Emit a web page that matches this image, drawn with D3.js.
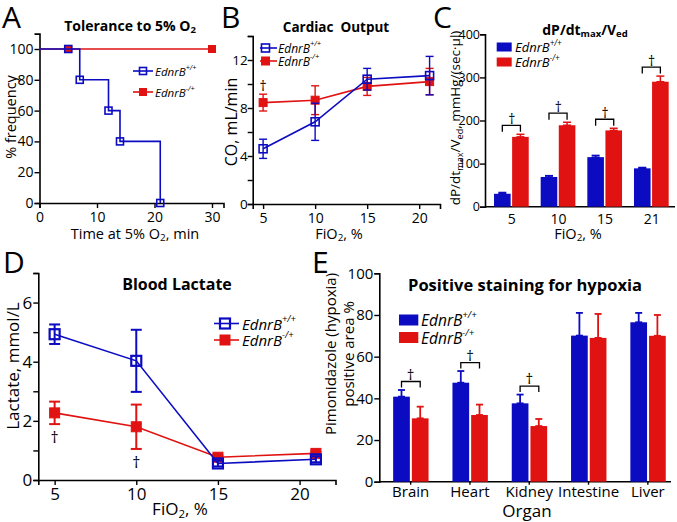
<!DOCTYPE html>
<html><head><meta charset="utf-8">
<script src="https://cdn.jsdelivr.net/npm/d3@7"></script>
<style>
body{margin:0;background:#fff}
svg{display:block}
text{font-family:"Open Sans",sans-serif;fill:#000}
</style></head><body>
<svg id="c" width="677" height="522"></svg>
<script>
// ---------- DATA ----------
// Panel A: tolerance to 5% O2 (survival)
const aStepTime = [0, 7, 12, 14, 21];
const aStepPct  = [100, 80, 60, 40, 0];
const aMarkTimeBlue = [5, 7, 12, 14, 21];
const aMarkPctBlue  = [100, 80, 60, 40, 0];
const aLineTimeRed = [0, 30];
const aLinePctRed  = [100, 100];
const aMarkTimeRed = [5, 30];
const aMarkPctRed  = [100, 100];
const aTicksX = [0, 10, 20, 30];
const aTicksY = [0, 20, 40, 60, 80, 100];

// Panel B: cardiac output
const fio2 = [5, 10, 15, 21];
const coBlue = [4.6, 6.85, 10.4, 10.7];
const coBlueErr = [0.8, 1.55, 0.9, 1.6];
const coRed = [8.45, 8.65, 9.8, 10.2];
const coRedErr = [0.7, 1.2, 0.75, 1.1];
const bTicksX = [5, 10, 15, 20];
const bTicksY = [0, 2, 4, 6, 8, 10, 12, 14];

// Panel C: dP/dtmax/Ved
const cCats = ["5", "10", "15", "21"];
const cBlue = [30, 69, 115, 89];
const cBlueErr = [3, 3, 4, 2];
const cRed = [162, 189, 177, 290];
const cRedErr = [6, 7, 5, 13];
const cTicksY = [0, 100, 200, 300, 400];

// Panel D: blood lactate
const lacBlue = [4.93, 4.03, 0.56, 0.70];
const lacBlueErr = [0.33, 1.05, 0.1, 0.1];
const lacRed = [2.27, 1.80, 0.77, 0.90];
const lacRedErr = [0.38, 0.75, 0.06, 0.06];
const dTicksX = [5, 10, 15, 20];
const dTicksY = [0, 1, 2, 3, 4, 5, 6, 7];

// Panel E: positive staining for hypoxia
const organs = ["Brain", "Heart", "Kidney", "Intestine", "Liver"];
const eBlue = [40.8, 47.5, 37.6, 70.1, 76.5];
const eBlueErr = [3.2, 5.6, 4.2, 10.9, 4.5];
const eRed = [30.4, 32, 26.7, 69, 70];
const eRedErr = [5.6, 5, 3.4, 11.5, 10];
const eTicksY = [0, 20, 40, 60, 80, 100];

const legendNames = [["EdnrB", "+/+"], ["EdnrB", "-/+"]];

// ---------- STYLE ----------
const BLUE = "#0b0bc2", RED = "#e01212";
const SANS = "'Open Sans', sans-serif";
const BOLD = "'Liberation Sans', Arial, sans-serif";
const svg = d3.select("#c");

function rich(g, x, y, fs, parts, o = {}) {
  const t = g.append("text").attr("font-size", fs)
    .attr("font-family", o.bold ? BOLD : SANS)
    .attr("font-weight", o.bold ? "bold" : "normal")
    .attr("text-anchor", o.anchor || "start")
    .attr("xml:space", "preserve").style("white-space", "pre");
  if (o.rotate) t.attr("transform", `translate(${x},${y}) rotate(-90)`);
  else t.attr("x", x).attr("y", y);
  if (o.central) t.attr("dominant-baseline", "central");
  let cur = 0;
  parts.forEach(p => {
    const [txt, kind, ital] = Array.isArray(p) ? p : [p];
    let shift = 0, size = fs;
    if (kind === "sub") { shift = 0.3 * fs; size = 0.68 * fs; }
    if (kind === "sup") { shift = -0.38 * fs; size = 0.62 * fs; }
    t.append("tspan").attr("dy", shift - cur).attr("font-size", size)
      .attr("font-style", ital ? "italic" : null).text(txt);
    cur = shift;
  });
  return t;
}
function styleAxis(g, fs) {
  g.attr("font-size", fs).attr("font-family", SANS);
  g.select(".domain").attr("stroke", "#000").attr("stroke-width", 1.6);
  g.selectAll(".tick line").attr("stroke", "#000").attr("stroke-width", 1.4);
  g.selectAll(".tick text").attr("fill", "#000");
}
function letter(x, y, s) {
  svg.append("text").attr("x", x).attr("y", y).attr("font-size", 30)
    .attr("font-family", SANS).text(s);
}
function legendName(g, x, y, fs, i) {
  rich(g, x, y, fs, [[legendNames[i][0], null, true], [legendNames[i][1], "sup", true]], { central: true });
}
function square(g, cx, cy, s, color, filled, sw) {
  g.append("rect").attr("x", cx - s / 2).attr("y", cy - s / 2).attr("width", s).attr("height", s)
    .attr("fill", filled ? color : "none").attr("stroke", color).attr("stroke-width", sw);
}
function errBar(g, x, y1, y2, cap, color, sw) {
  g.append("line").attr("x1", x).attr("x2", x).attr("y1", y1).attr("y2", y2).attr("stroke", color).attr("stroke-width", sw);
  [y1, y2].forEach(yy => g.append("line").attr("x1", x - cap / 2).attr("x2", x + cap / 2)
    .attr("y1", yy).attr("y2", yy).attr("stroke", color).attr("stroke-width", sw));
}
function dagger(g, x, y, fs) {
  g.append("text").attr("x", x).attr("y", y).attr("font-size", fs).attr("text-anchor", "middle")
    .attr("dominant-baseline", "central").attr("font-family", SANS).text("†");
}
function bracket(g, x1, x2, yTop, leg) {
  g.append("path").attr("d", `M${x1},${yTop + leg}V${yTop}H${x2}V${yTop + leg}`)
    .attr("fill", "none").attr("stroke", "#000").attr("stroke-width", 1.3);
}

// ---------- PANEL A ----------
{
  const g = svg.append("g");
  const x = d3.scaleLinear([0, 32], [39.5, 223.5]);
  const y = d3.scaleLinear([0, 110], [203, 33.6]);
  styleAxis(g.append("g").attr("transform", "translate(0,203)")
    .call(d3.axisBottom(x).tickValues(aTicksX).tickSizeOuter(0).tickSize(5).tickPadding(4)), 14);
  styleAxis(g.append("g").attr("transform", "translate(39.5,0)")
    .call(d3.axisLeft(y).tickValues(aTicksY).tickSizeOuter(0).tickSize(5).tickPadding(1)), 14);
  const redPts = aLineTimeRed.map((t, i) => [t, aLinePctRed[i]]);
  g.append("path").attr("d", d3.line().x(d => x(d[0])).y(d => y(d[1]))(redPts))
    .attr("fill", "none").attr("stroke", RED).attr("stroke-width", 1.6);
  aMarkTimeRed.forEach((t, i) => square(g, x(t), y(aMarkPctRed[i]), 7, RED, true, 1));
  const bluePts = aStepTime.map((t, i) => [t, aStepPct[i]]);
  g.append("path").attr("d", d3.line().curve(d3.curveStepAfter).x(d => x(d[0])).y(d => y(d[1]))(bluePts))
    .attr("fill", "none").attr("stroke", BLUE).attr("stroke-width", 1.6);
  aMarkTimeBlue.forEach((t, i) => square(g, x(t), y(aMarkPctBlue[i]), 7, BLUE, false, 1.6));
  rich(g, 130, 25, 14, ["Tolerance to 5% O", ["2", "sub"]], { bold: true, anchor: "middle", central: true });
  rich(g, 10, 117, 14.5, ["% frequency"], { rotate: true, anchor: "middle", central: true });
  rich(g, 135, 233, 14.5, ["Time at 5% O", ["2", "sub"], ", min"], { anchor: "middle", central: true });
  // legend
  g.append("line").attr("x1", 133).attr("x2", 153).attr("y1", 71).attr("y2", 71).attr("stroke", BLUE).attr("stroke-width", 1.6);
  square(g, 143, 71, 7, BLUE, false, 1.6);
  g.append("line").attr("x1", 133).attr("x2", 153).attr("y1", 92).attr("y2", 92).attr("stroke", RED).attr("stroke-width", 1.6);
  square(g, 143, 92, 7, RED, true, 1);
  legendName(g, 155, 71, 11.5, 0);
  legendName(g, 155, 92, 11.5, 1);
  letter(2, 28, "A");
}

// ---------- PANEL B ----------
{
  const g = svg.append("g");
  const x = d3.scaleLinear([4, 22], [252.7, 440]);
  const y = d3.scaleLinear([0, 14], [204, 36]);
  styleAxis(g.append("g").attr("transform", "translate(0,204)")
    .call(d3.axisBottom(x).tickValues(bTicksX).tickSizeOuter(0).tickSize(5).tickPadding(4)), 14);
  styleAxis(g.append("g").attr("transform", "translate(252.7,0)")
    .call(d3.axisLeft(y).tickValues(bTicksY).tickFormat(d => d % 4 === 0 ? d : "").tickSizeOuter(0).tickSize(5).tickPadding(0)), 13.5);
  const line = d3.line().x((d, i) => x(fio2[i])).y(d => y(d));
  g.append("path").attr("d", line(coRed)).attr("fill", "none").attr("stroke", RED).attr("stroke-width", 1.6);
  coRed.forEach((v, i) => errBar(g, x(fio2[i]), y(v + coRedErr[i]), y(v - coRedErr[i]), 8, RED, 1.4));
  coRed.forEach((v, i) => square(g, x(fio2[i]), y(v), 8, RED, true, 1));
  g.append("path").attr("d", line(coBlue)).attr("fill", "none").attr("stroke", BLUE).attr("stroke-width", 1.6);
  coBlue.forEach((v, i) => errBar(g, x(fio2[i]), y(v + coBlueErr[i]), y(v - coBlueErr[i]), 8, BLUE, 1.4));
  coBlue.forEach((v, i) => square(g, x(fio2[i]), y(v), 8, BLUE, false, 1.6));
  dagger(g, x(5), 85, 14);
  rich(g, 336, 27, 13.5, ["Cardiac  Output"], { bold: true, anchor: "middle", central: true });
  rich(g, 231, 122, 16, ["CO, mL/min"], { rotate: true, anchor: "middle", central: true });
  rich(g, 339, 233, 14.5, ["FiO", ["2", "sub"], ", %"], { anchor: "middle", central: true });
  g.append("line").attr("x1", 260).attr("x2", 277).attr("y1", 48).attr("y2", 48).attr("stroke", BLUE).attr("stroke-width", 1.6);
  square(g, 265.5, 48, 8, BLUE, false, 1.6);
  g.append("line").attr("x1", 260).attr("x2", 277).attr("y1", 61).attr("y2", 61).attr("stroke", RED).attr("stroke-width", 1.6);
  square(g, 265.5, 61, 8, RED, true, 1);
  legendName(g, 278, 48, 12, 0);
  legendName(g, 278, 61, 12, 1);
  letter(221, 28, "B");
}

// ---------- PANEL C ----------
{
  const g = svg.append("g");
  const x = d3.scaleBand(cCats, [488.4, 675]);
  const y = d3.scaleLinear([0, 400], [206.7, 34.3]);
  const ax = g.append("g").attr("transform", "translate(0,206.7)")
    .call(d3.axisBottom(x).tickSizeOuter(0).tickSize(0).tickPadding(7));
  styleAxis(ax, 14);
  ax.select(".domain").remove();
  g.append("line").attr("x1", 485).attr("x2", 675).attr("y1", 206.7).attr("y2", 206.7).attr("stroke", "#000").attr("stroke-width", 1.6);
  styleAxis(g.append("g").attr("transform", "translate(485,0)")
    .call(d3.axisLeft(y).tickValues(cTicksY).tickSizeOuter(0).tickSize(5).tickPadding(0)), 12.5);
  const bw = 16.6;
  cCats.forEach((c, i) => {
    const cx = x(c) + x.bandwidth() / 2;
    const bx = cx - 17.7, rx = cx + 0.4;
    errBar(g, bx + bw / 2, y(cBlue[i] + cBlueErr[i]), y(cBlue[i]), 8, BLUE, 1.5);
    errBar(g, rx + bw / 2, y(cRed[i] + cRedErr[i]), y(cRed[i]), 8, RED, 1.5);
    g.append("rect").attr("x", bx).attr("width", bw).attr("y", y(cBlue[i])).attr("height", y(0) - y(cBlue[i])).attr("fill", BLUE);
    g.append("rect").attr("x", rx).attr("width", bw).attr("y", y(cRed[i])).attr("height", y(0) - y(cRed[i])).attr("fill", RED);
    const top = y(Math.max(cBlue[i] + cBlueErr[i], cRed[i] + cRedErr[i])) - 9;
    bracket(g, bx + bw / 2, rx + bw / 2, top, 6.5);
    dagger(g, cx, top - 7, 14);
  });
  rich(g, 585, 29, 14, ["dP/dt", ["max", "sub"], "/V", ["ed", "sub"]], { bold: true, anchor: "middle", central: true });
  rich(g, 455, 118, 13.5, ["dP/dt", ["max", "sub"], "/V", ["ed", "sub"], ", mmHg/(sec·µl)"], { rotate: true, anchor: "middle", central: true });
  rich(g, 578, 233, 14.5, ["FiO", ["2", "sub"], ", %"], { anchor: "middle", central: true });
  g.append("rect").attr("x", 496.7).attr("y", 42.5).attr("width", 15).attr("height", 9).attr("fill", BLUE);
  g.append("rect").attr("x", 496.7).attr("y", 57.5).attr("width", 15).attr("height", 9).attr("fill", RED);
  legendName(g, 515, 47, 13, 0);
  legendName(g, 515, 62, 13, 1);
  letter(433, 28, "C");
}

// ---------- PANEL D ----------
{
  const g = svg.append("g");
  const x = d3.scaleLinear([4, 22.2], [38.3, 335.5]);
  const y = d3.scaleLinear([0, 7], [480, 273]);
  styleAxis(g.append("g").attr("transform", "translate(0,480)")
    .call(d3.axisBottom(x).tickValues(dTicksX).tickSizeOuter(0).tickSize(5).tickPadding(3)), 17);
  styleAxis(g.append("g").attr("transform", "translate(38.3,0)")
    .call(d3.axisLeft(y).tickValues(dTicksY).tickFormat(d => d % 2 === 0 ? d : "").tickSizeOuter(0).tickSize(5).tickPadding(1)), 17);
  const line = d3.line().x((d, i) => x(fio2[i])).y(d => y(d));
  g.append("path").attr("d", line(lacRed)).attr("fill", "none").attr("stroke", RED).attr("stroke-width", 1.6);
  lacRed.forEach((v, i) => errBar(g, x(fio2[i]), y(v + lacRedErr[i]), y(v - lacRedErr[i]), 11, RED, 2));
  lacRed.forEach((v, i) => square(g, x(fio2[i]), y(v), 10, RED, true, 1));
  g.append("path").attr("d", line(lacBlue)).attr("fill", "none").attr("stroke", BLUE).attr("stroke-width", 1.6);
  lacBlue.forEach((v, i) => errBar(g, x(fio2[i]), y(v + lacBlueErr[i]), y(v - lacBlueErr[i]), 11, BLUE, 2));
  lacBlue.forEach((v, i) => square(g, x(fio2[i]), y(v), 10, BLUE, false, 2.2));
  dagger(g, x(5), 437, 16);
  dagger(g, x(10), 462, 16);
  rich(g, 177, 284, 16, ["Blood Lactate"], { bold: true, anchor: "middle", central: true });
  rich(g, 12, 366, 17, ["Lactate, mmol/L"], { rotate: true, anchor: "middle", central: true });
  rich(g, 180, 508, 17, ["FiO", ["2", "sub"], ", %"], { anchor: "middle", central: true });
  g.append("line").attr("x1", 214).attr("x2", 239).attr("y1", 323.5).attr("y2", 323.5).attr("stroke", BLUE).attr("stroke-width", 1.6);
  square(g, 225, 323.5, 10, BLUE, false, 2.2);
  g.append("line").attr("x1", 214).attr("x2", 239).attr("y1", 340).attr("y2", 340).attr("stroke", RED).attr("stroke-width", 1.6);
  square(g, 225, 340, 10, RED, true, 1);
  legendName(g, 242, 323.5, 15, 0);
  legendName(g, 242, 340, 15, 1);
  letter(3, 273, "D");
}

// ---------- PANEL E ----------
{
  const g = svg.append("g");
  const x = d3.scaleBand(organs, [381, 677.5]);
  const y = d3.scaleLinear([0, 100], [481.7, 273.3]);
  const ax = g.append("g").attr("transform", "translate(0,481.7)")
    .call(d3.axisBottom(x).tickSizeOuter(0).tickSize(3).tickPadding(2));
  styleAxis(ax, 15);
  ax.select(".domain").remove();
  g.append("line").attr("x1", 379.3).attr("x2", 671).attr("y1", 481.7).attr("y2", 481.7).attr("stroke", "#000").attr("stroke-width", 1.6);
  styleAxis(g.append("g").attr("transform", "translate(379.3,0)")
    .call(d3.axisLeft(y).tickValues(eTicksY).tickSizeOuter(0).tickSize(5).tickPadding(1)), 15);
  const bw = 16.7;
  organs.forEach((o, i) => {
    const cx = x(o) + x.bandwidth() / 2;
    const bx = cx - 17.5, rx = cx + 1.2;
    errBar(g, bx + bw / 2, y(eBlue[i] + eBlueErr[i]), y(eBlue[i]), 7, BLUE, 1.8);
    errBar(g, rx + bw / 2, y(eRed[i] + eRedErr[i]), y(eRed[i]), 7, RED, 1.8);
    g.append("rect").attr("x", bx).attr("width", bw).attr("y", y(eBlue[i])).attr("height", y(0) - y(eBlue[i])).attr("fill", BLUE);
    g.append("rect").attr("x", rx).attr("width", bw).attr("y", y(eRed[i])).attr("height", y(0) - y(eRed[i])).attr("fill", RED);
    if (i < 3) {
      const top = y(Math.max(eBlue[i] + eBlueErr[i], eRed[i] + eRedErr[i])) - 8.5;
      bracket(g, bx + bw / 2, rx + bw / 2, top, 6);
      dagger(g, cx, top - 8, 15);
    }
  });
  rich(g, 525, 284, 16.5, ["Positive staining for hypoxia"], { bold: true, anchor: "middle", central: true });
  rich(g, 330, 354, 15, ["Pimonidazole (hypoxia)"], { rotate: true, anchor: "middle", central: true });
  rich(g, 347.5, 354, 15, ["positive area %"], { rotate: true, anchor: "middle", central: true });
  rich(g, 527, 510, 17, ["Organ"], { anchor: "middle", central: true });
  g.append("rect").attr("x", 399).attr("y", 314.5).attr("width", 19.3).attr("height", 11).attr("fill", BLUE);
  g.append("rect").attr("x", 399).attr("y", 332).attr("width", 19.3).attr("height", 11).attr("fill", RED);
  legendName(g, 421, 320, 15.5, 0);
  legendName(g, 421, 337.5, 15.5, 1);
  letter(312, 273, "E");
}
</script></body></html>
